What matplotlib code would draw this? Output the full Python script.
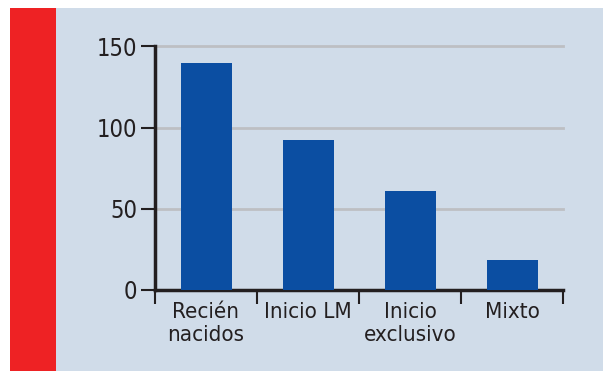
import matplotlib
matplotlib.use("Agg")
import matplotlib.pyplot as plt
from matplotlib.patches import Rectangle

categories = ["Recién\nnacidos", "Inicio LM", "Inicio\nexclusivo", "Mixto"]
values = [140, 92, 61, 18]
y_ticks = [0, 50, 100, 150]

RED = "#EE2224"
PANEL = "#D0DCE9"
BAR = "#0B4EA2"
GRID = "#BDBFC3"
INK = "#231F20"

plt.rcParams["font.family"] = ["Liberation Sans Narrow", "DejaVu Sans"]
plt.rcParams["font.stretch"] = "condensed"

W, H = 603, 371
fig = plt.figure(figsize=(W / 100, H / 100), dpi=100)
fig.patch.set_facecolor("white")

# background panel and red side strip
fig.add_artist(Rectangle((56 / W, 0), 1 - 56 / W, 1 - 8 / H,
                         transform=fig.transFigure, facecolor=PANEL,
                         edgecolor="none", zorder=0))
fig.add_artist(Rectangle((10 / W, 0), 46 / W, 1 - 8 / H,
                         transform=fig.transFigure, facecolor=RED,
                         edgecolor="none", zorder=0))

left, right = 155 / W, 563 / W
bottom, top = (H - 289.5) / H, (H - 46.5) / H
ax = fig.add_axes([left, bottom, right - left, top - bottom])
ax.set_facecolor("none")

x = list(range(len(categories)))
ax.bar(x, values, width=0.5, color=BAR, zorder=3)

ax.set_xlim(-0.5, len(categories) - 0.5)
ax.set_ylim(0, 150)
ax.set_yticks(y_ticks)
ax.set_yticklabels([str(v) for v in y_ticks])
ax.yaxis.grid(True, color=GRID, linewidth=2, zorder=1)
ax.set_axisbelow(True)

# category boundaries carry the tick marks; labels sit between them
ax.set_xticks([i - 0.5 for i in range(len(categories) + 1)])
ax.set_xticklabels([])
ax.set_xticks(x, minor=True)
ax.set_xticklabels(categories, minor=True, fontsize=16, color=INK,
                   linespacing=1.2)
ax.tick_params(axis="x", which="minor", length=0, pad=9)
ax.tick_params(axis="x", which="major", length=10, width=1.5, color=INK,
               direction="out")
ax.tick_params(axis="y", length=10, width=1.5, color=INK, direction="out",
               labelsize=17, labelcolor=INK, pad=3)

for s in ("top", "right"):
    ax.spines[s].set_visible(False)
for s in ("left", "bottom"):
    ax.spines[s].set_linewidth(2.5)
    ax.spines[s].set_color(INK)

fig.canvas.draw()
for gl in ax.yaxis.get_gridlines():
    gl.set_clip_on(False)

fig.savefig("out.png", dpi=100, facecolor=fig.get_facecolor())
